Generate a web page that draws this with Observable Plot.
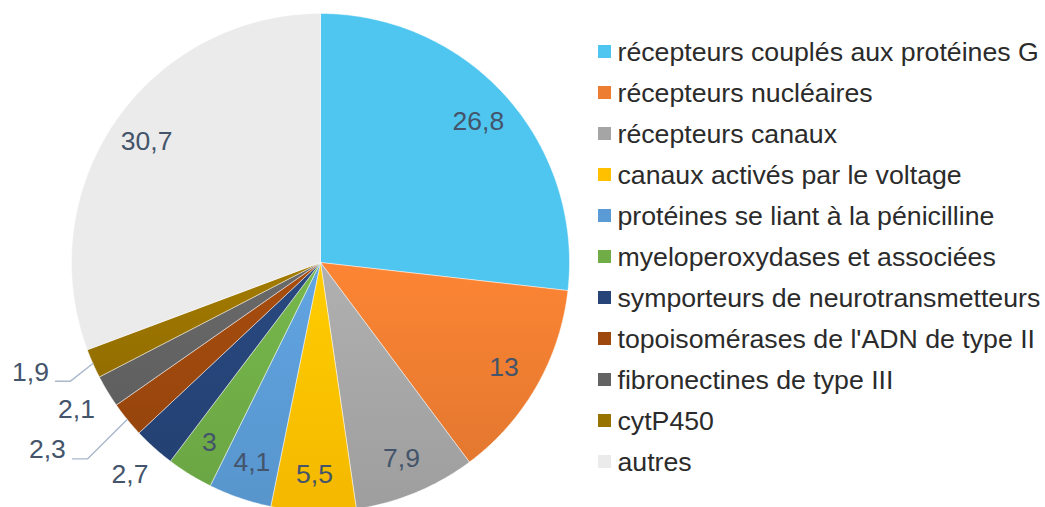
<!DOCTYPE html>
<html><head><meta charset="utf-8">
<script src="https://cdn.jsdelivr.net/npm/d3@7"></script>
<script src="https://cdn.jsdelivr.net/npm/@observablehq/plot@0.6"></script>
<style>html,body{margin:0;padding:0;background:#fff;} svg{display:block}</style>
</head><body><div id="chart"></div>
<script>
const categories = [
  "récepteurs couplés aux protéines G",
  "récepteurs nucléaires",
  "récepteurs canaux",
  "canaux activés par le voltage",
  "protéines se liant à la pénicilline",
  "myeloperoxydases et associées",
  "symporteurs de neurotransmetteurs",
  "topoisomérases de l'ADN de type II",
  "fibronectines de type III",
  "cytP450",
  "autres"
];
const values = [26.8, 13, 7.9, 5.5, 4.1, 3, 2.7, 2.3, 2.1, 1.9, 30.7];
const colors = ["#4FC6F0", "#ED7D31", "#A5A5A5", "#FFC000", "#5B9BD5", "#70AD47",
                "#264478", "#9E480E", "#636363", "#997300", "#EBEBEB"];

const W = 1045, H = 507, CX = 320, CY = 262, R = 249;
const FONT = "'Liberation Sans', Arial, sans-serif";
const total = d3.sum(values);
let acc = 0;
const slices = values.map((v, i) => {
  const a0 = acc / total * 2 * Math.PI; acc += v;
  const a1 = acc / total * 2 * Math.PI;
  return {i, cat: categories[i], value: v, a0, a1, mid: (a0 + a1) / 2, grad: `url(#g${i})`, color: colors[i],
          label: String(v).replace(".", ",")};
});
const pt = (a, r) => [CX + r * Math.sin(a), CY - r * Math.cos(a)];

const slicePts = slices.flatMap(s => {
  const n = Math.max(2, Math.ceil((s.a1 - s.a0) / (Math.PI / 360)));
  const arr = [{i: s.i, grad: s.grad, x: CX, y: CY}];
  for (let k = 0; k <= n; k++) {
    const [x, y] = pt(s.a0 + (s.a1 - s.a0) * k / n, R);
    arr.push({i: s.i, grad: s.grad, x, y});
  }
  arr.push({i: s.i, grad: s.grad, x: CX, y: CY});
  return arr;
});

// label placement
const inside = [], outside = [], leaders = [];
let lastPlaced = null;
const deg = Math.PI / 180;
slices.forEach(s => {
  if (s.value >= 3) {
    const [x, y] = pt(s.mid, 0.85 * R);
    inside.push({x, y, label: s.label});
  } else {
    const [dx, dy] = pt(s.mid, 1.145 * R);
    const close = lastPlaced && Math.hypot(dx - lastPlaced[0], dy - lastPlaced[1]) < 55;
    if (!close) {
      outside.push({x: dx, y: dy, label: s.label});
      lastPlaced = [dx, dy];
    } else {
      let [x, y] = pt(s.mid + 4.6 * deg, 1.33 * R);
      x = Math.max(x, 30);
      outside.push({x, y, label: s.label});
      const [ax, ay] = pt(s.mid, R);
      leaders.push({k: s.i, x: x + 25, y: y + 9});
      leaders.push({k: s.i, x: x + 40, y: y + 9});
      leaders.push({k: s.i, x: ax, y: ay});
    }
  }
});

const legend = slices.map(s => ({i: s.i, cat: s.cat, color: s.color, y: 51.5 + s.i * 41}));

const svg = Plot.plot({
  width: W, height: H,
  margin: 0,
  x: {domain: [0, W], range: [0, W], axis: null},
  y: {domain: [0, H], range: [0, H], axis: null},
  color: {type: "identity"},
  style: {fontFamily: FONT, background: "#fff"},
  marks: [
    Plot.line(slicePts, {x: "x", y: "y", z: "i", fill: "grad", stroke: "#ffffff", strokeWidth: 0.8, strokeOpacity: 0.6, curve: "linear"}),
    Plot.text(inside, {x: "x", y: "y", text: "label", fill: "#44546A", fontSize: 26.5, fontFamily: FONT}),
    Plot.text(outside, {x: "x", y: "y", text: "label", fill: "#44546A", fontSize: 26.5, fontFamily: FONT}),
    Plot.line(leaders, {x: "x", y: "y", z: "k", stroke: "#A9B8CC", strokeWidth: 1.4}),
    Plot.rect(legend, {x1: () => 598, x2: () => 611, y1: d => d.y - 6.5, y2: d => d.y + 6.5, fill: "color"}),
    Plot.text(legend, {x: () => 617, y: "y", text: "cat", textAnchor: "start", fill: "#2b2b2b", fontSize: 26.7, fontFamily: FONT})
  ]
});

const defs = d3.select(svg).insert("defs", ":first-child");
slices.forEach(s => {
  const g = defs.append("linearGradient").attr("id", `g${s.i}`)
    .attr("x1", 0).attr("y1", 0).attr("x2", 0).attr("y2", 1);
  const flat = s.i === 0 || s.i === 10;
  g.append("stop").attr("offset", "0%").attr("stop-color", flat ? s.color : d3.color(s.color).brighter(0.18).formatHex());
  g.append("stop").attr("offset", "100%").attr("stop-color", flat ? s.color : d3.color(s.color).darker(0.12).formatHex());
});
document.getElementById("chart").appendChild(svg);
</script>
</body></html>
